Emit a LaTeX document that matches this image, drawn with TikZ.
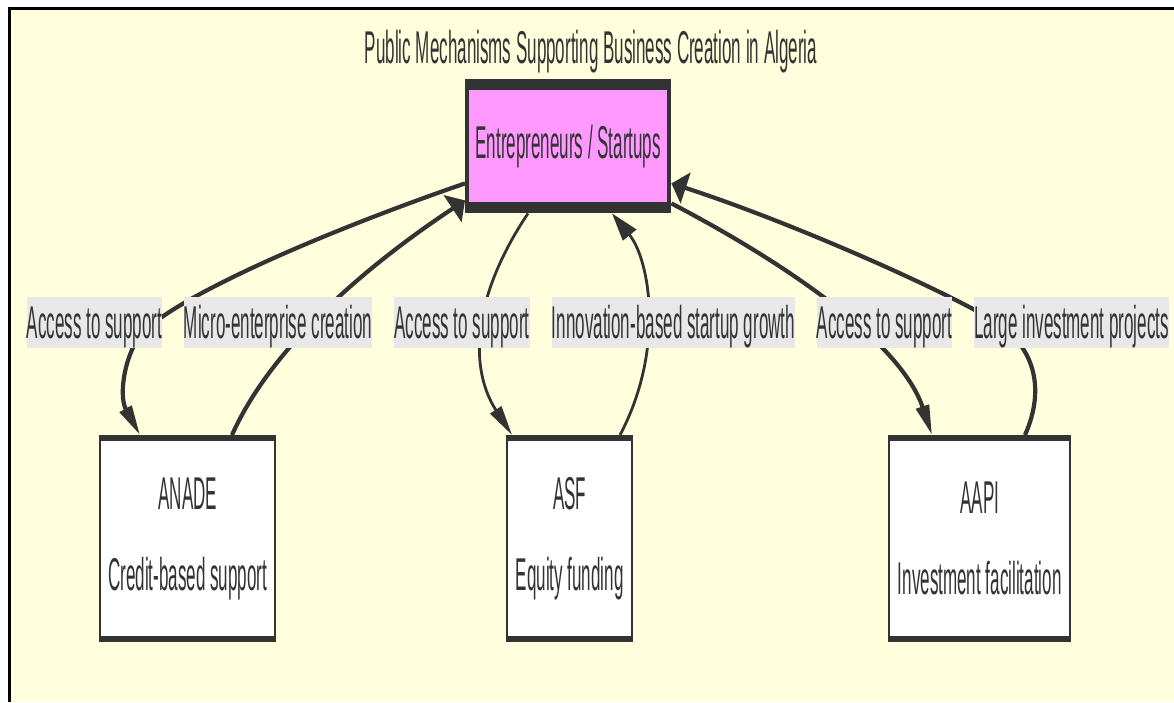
\documentclass[tikz,border=0pt]{standalone}
\usepackage{fontspec}
\setmainfont{Liberation Sans}[FakeStretch=0.37]
\usetikzlibrary{arrows.meta,calc}
\definecolor{bg}{HTML}{FFFFDE}
\definecolor{ink}{HTML}{333333}
\definecolor{pinkfill}{HTML}{FF99FF}
\definecolor{lblbg}{HTML}{E8E8E8}
\begin{document}
\begin{tikzpicture}[x=1pt,y=-1pt,
  txt/.style={text=ink, font=\fontsize{46}{81}\selectfont},
  lbl/.style={txt, fill=lblbg, inner sep=0pt, text height=41.6pt, text depth=9.8pt},
  boxbase/.style={txt, fill=ink, inner sep=0pt, align=center, anchor=north west},
  topbox/.style={boxbase, minimum width=206pt, minimum height=134pt,
    path picture={\fill[pinkfill] ($(path picture bounding box.north west)+(4,11)$) rectangle ($(path picture bounding box.south east)+(-4,-11)$);}},
  lowbox/.style={boxbase, minimum height=207pt,
    path picture={\fill[white] ($(path picture bounding box.north west)+(2,6)$) rectangle ($(path picture bounding box.south east)+(-2,-6)$);}},
  conn/.style={draw=ink, line width=3.5pt},
  flat/.style={line width=4.2pt},
  steep/.style={line width=2.8pt},
  tipdown/.style={-{Triangle[length=30pt,width=13pt]}},
  tipside/.style={-{Triangle[length=15pt,width=32pt]}},
  tipup/.style={-{Triangle[length=28pt,width=17pt]}}
]
\useasboundingbox (0,0) rectangle (1174,702);
\fill[white] (0,0) rectangle (1174,702);
\fill[bg] (9.7,8.7) rectangle (1174,702);
\draw[black, line width=2.7pt] (9.7,702) -- (9.7,8.7) -- (1174,8.7);

\node[txt, anchor=base] (title) at (591,63) {Public Mechanisms Supporting Business Creation in Algeria};

\node[topbox] (top) at (465,79) {Entrepreneurs / Startups};
\node[lowbox, minimum width=177pt] (anade) at (99,435) {ANADE\\Credit-based support};
\node[lowbox, minimum width=127pt] (asf) at (506,435) {ASF\\Equity funding};
\node[lowbox, minimum width=183pt] (aapi) at (888,435) {AAPI\\Investment facilitation};

% connectors
\draw[conn, flat, tipdown] ($(top.south west)+(0,-30)$) .. controls (330,230) and (190,290) .. (145,330)
   .. controls (125,350) and (118,395) .. ($(anade.north west)+(41,0)$);
\draw[conn, flat, tipside] ($(anade.north west)+(133,0)$) .. controls (270,350) and (360,270) .. ($(top.south west)+(0,-13)$);
\draw[conn, steep, tipdown] ($(top.south west)+(63,0)$) .. controls (470,300) and (470,370) .. ($(asf.north west)+(6,0)$);
\draw[conn, steep, tipup] ($(asf.north west)+(114,0)$) .. controls (665,350) and (650,260) .. ($(top.south west)+(147,0)$);
\draw[conn, flat, tipdown] ($(top.south east)+(0,-10)$) .. controls (780,260) and (900,340) .. ($(aapi.north west)+(44,0)$);
\draw[conn, flat, tipside] ($(aapi.north west)+(137,0)$) .. controls (1045,390) and (1035,350) .. (1000,325)
   .. controls (965,300) and (800,225) .. ($(top.south east)+(0,-30)$);

% labels
\node[lbl] (l1) at (94.5,322.5) {Access to support};
\node[lbl] (l2) at (278,322.5) {Micro-enterprise creation};
\node[lbl] (l3) at (462,322.5) {Access to support};
\node[lbl] (l4) at (673.5,322.5) {Innovation-based startup growth};
\node[lbl] (l5) at (884.5,322.5) {Access to support};
\node[lbl] (l6) at (1071.5,322.5) {Large investment projects};
\end{tikzpicture}
\end{document}
